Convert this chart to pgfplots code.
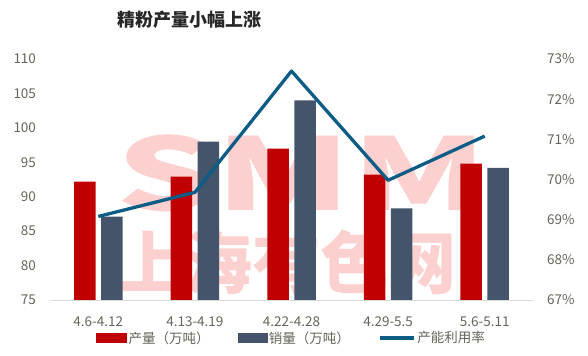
\documentclass[border=0pt]{standalone}
\usepackage{fontspec}
\setmainfont{Noto Sans CJK SC}
\usepackage{pgfplots}
\pgfplotsset{compat=1.18}
\definecolor{cRed}{RGB}{192,0,0}
\definecolor{cGrey}{RGB}{68,84,106}
\definecolor{cLine}{RGB}{12,92,133}
\definecolor{cText}{RGB}{100,100,88}
\definecolor{cWm}{RGB}{253,208,208}
\definecolor{cAxis}{RGB}{217,217,217}
\begin{document}
\begin{tikzpicture}
\path[use as bounding box] (0,0) rectangle (588bp,356bp);
\node[cWm, inner sep=0pt, font=\fontsize{100bp}{100bp}\selectfont\bfseries, xscale=1.55] at (302bp,182.5bp) {SMM};
\node[cWm, inner sep=0pt, font=\fontsize{68bp}{68bp}\selectfont\bfseries] at (286bp,94bp) {上海有色网};
\node[font=\fontsize{18bp}{18bp}\selectfont\bfseries, text=black!85] at (189bp,336bp) {精粉产量小幅上涨};
\begin{axis}[
 at={(50bp,56bp)}, anchor=south west, scale only axis, width=483bp, height=241bp,
 xmin=-0.5, xmax=4.5, ymin=75, ymax=110,
 xtick={0,...,4}, xticklabels={4.6-4.12,4.13-4.19,4.22-4.28,4.29-5.5,5.6-5.11},
 ytick={75,80,...,110},
 axis x line*=bottom, axis y line*=left,
 x axis line style={draw=cAxis, line width=0.8bp},
 y axis line style={draw=none},
 major tick length=0pt,
 tick label style={font=\fontsize{13.5bp}{14bp}\selectfont, text=cText},
 /pgf/number format/assume math mode=true,
 yticklabel style={anchor=east, xshift=-10.5bp},
 xticklabel style={yshift=-13bp},
 legend style={at={(0.5,0)}, anchor=center, yshift=-38bp, draw=none, fill=none,
   legend columns=3, font=\fontsize{13.5bp}{14bp}\selectfont, text=cText,
   /tikz/every even column/.append style={column sep=26bp}},
]
\addplot[ybar, bar width=21.5bp, bar shift=-13.5bp, fill=cRed, draw=none, forget plot]
  coordinates {(0,92.2) (1,92.9) (2,97.0) (3,93.2) (4,94.8)};
\addplot[ybar, bar width=21.5bp, bar shift=13.5bp, fill=cGrey, draw=none, forget plot]
  coordinates {(0,87.1) (1,98.0) (2,104.0) (3,88.3) (4,94.2)};
\addlegendimage{legend image code/.code={\fill[cRed] (0bp,-4.5bp) rectangle (30bp,4.5bp);}}
\addlegendentry{产量（万吨）}
\addlegendimage{legend image code/.code={\fill[cGrey] (0bp,-4.5bp) rectangle (29bp,4.5bp);}}
\addlegendentry{销量（万吨）}
\addlegendimage{legend image code/.code={\draw[cLine, line width=3.3bp] (0bp,0bp) -- (34bp,0bp);}}
\addlegendentry{产能利用率}
\end{axis}
\begin{axis}[
 at={(50bp,56bp)}, anchor=south west, scale only axis, width=483bp, height=241bp,
 xmin=-0.5, xmax=4.5, ymin=67, ymax=73,
 axis x line=none, axis y line*=right,
 y axis line style={draw=none},
 major tick length=0pt,
 ytick={67,...,73},
 yticklabel={\pgfmathprintnumber{\tick}\%},
 tick label style={font=\fontsize{13.5bp}{14bp}\selectfont, text=cText},
 /pgf/number format/assume math mode=true,
 yticklabel style={anchor=west, xshift=10.5bp},
]
\addplot[cLine, line width=3.3bp, line join=round, mark=none]
  coordinates {(0,69.08) (1,69.68) (2,72.7) (3,69.98) (4,71.08)};
\end{axis}
\end{tikzpicture}
\end{document}
